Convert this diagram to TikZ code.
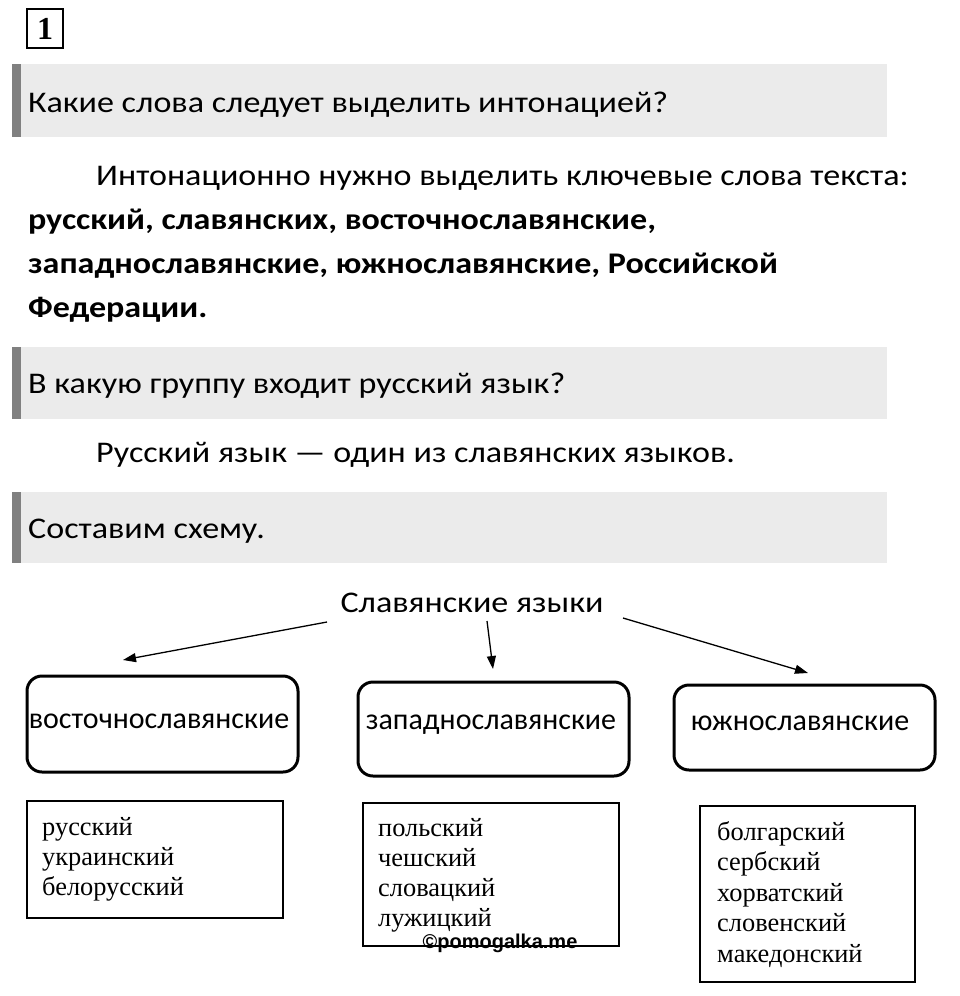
\documentclass[tikz,border=0pt]{standalone}
\usepackage{fontspec}
\setmainfont{Carlito}
\newfontfamily\widefont{Carlito}[FakeStretch=1.135]
\newfontfamily\serifl{Liberation Serif}
\newfontfamily\sansl{Liberation Sans}
\usetikzlibrary{arrows.meta}
\definecolor{barfill}{HTML}{EBEBEB}
\definecolor{stripcol}{HTML}{808080}
\newcommand\mainsz{\fontsize{30}{36}\selectfont}
\newcommand\listsz{\fontsize{26.4}{30}\selectfont}
\begin{document}
\begin{tikzpicture}[x=1pt,y=-1pt,
  txt/.style={inner sep=0pt, font=\widefont\mainsz, anchor=base west},
  btxt/.style={inner sep=0pt, font=\widefont\mainsz\bfseries, anchor=base west},
  rbox/.style={draw, line width=3pt, rounded corners=15pt, inner sep=0pt},
  lbox/.style={draw, line width=1.4pt, inner sep=0pt},
  lst/.style={inner sep=0pt, font=\serifl\listsz, anchor=base west},
  arr/.style={line width=1.3pt, -{Triangle[length=13pt,width=9pt]}},
  lbl/.style={inner sep=0pt, font=\mainsz, anchor=base}]
\useasboundingbox (0,0) rectangle (960,996);
\fill[white] (0,0) rectangle (960,996);
% number box
\node[draw, line width=2pt, minimum width=36pt, minimum height=39pt, inner sep=0pt,
  font=\serifl\bfseries\fontsize{32}{32}\selectfont] (num) at (45,28.5) {1};
% question bars
\fill[barfill] (12,64) rectangle (887,137);
\fill[stripcol] (12,64) rectangle (21,137);
\fill[barfill] (12,347) rectangle (887,419);
\fill[stripcol] (12,347) rectangle (21,419);
\fill[barfill] (12,492) rectangle (887,563);
\fill[stripcol] (12,492) rectangle (21,563);
\node[txt] (q1) at (28,112) {Какие слова следует выделить интонацией?};
\node[txt] (p1) at (96,185) {Интонационно нужно выделить ключевые слова текста:};
\node[btxt] (p2) at (28,229) {русский, славянских, восточнославянские,};
\node[btxt] (p3) at (28,273) {западнославянские, южнославянские, Российской};
\node[btxt] (p4) at (28,317) {Федерации.};
\node[txt] (q2) at (28,393) {В какую группу входит русский язык?};
\node[txt] (a2) at (96,462) {Русский язык — один из славянских языков.};
\node[txt] (q3) at (28,538) {Составим схему.};
% scheme
\node[lbl, font=\widefont\fontsize{30}{36}\selectfont] (root) at (472,612) {Славянские языки};
\node[rbox, minimum width=271pt, minimum height=96pt] (east) at (162.5,724) {};
\node[rbox, minimum width=271pt, minimum height=94pt] (west) at (493.5,729) {};
\node[rbox, minimum width=261pt, minimum height=85pt] (south) at (804.5,727.5) {};
\node[lbl] (eastl) at (159,728) {восточнославянские};
\node[lbl] (westl) at (491,729) {западнославянские};
\node[lbl] (southl) at (800,730) {южнославянские};
\coordinate (a1s) at (327,622);
\coordinate (a1e) at (123,660);
\coordinate (a2s) at (487,621);
\coordinate (a2e) at (493,669);
\coordinate (a3s) at (623,618);
\coordinate (a3e) at (808,673);
\draw[arr] (a1s) -- (a1e);
\draw[arr] (a2s) -- (a2e);
\draw[arr] (a3s) -- (a3e);
% lists
\node[lbox, minimum width=256pt, minimum height=117pt] (eastlist) at (155,859.5) {};
\node[lbox, minimum width=256pt, minimum height=143pt] (westlist) at (491,874.5) {};
\node[lbox, minimum width=215pt, minimum height=176pt] (southlist) at (807.5,894) {};
\foreach \t [count=\i] in {русский, украинский, белорусский}
  \node[lst] (e\i) at (42,{835+30*(\i-1)}) {\t};
\foreach \t [count=\i] in {польский, чешский, словацкий, лужицкий}
  \node[lst] (w\i) at (378,{836+30.3*(\i-1)}) {\t};
\foreach \t [count=\i] in {болгарский, сербский, хорватский, словенский, македонский}
  \node[lst] (s\i) at (717,{840+30.5*(\i-1)}) {\t};
\node[inner sep=0pt, anchor=base, font=\sansl\bfseries\fontsize{20}{20}\selectfont] (wm) at (500,948) {©pomogalka.me};
\end{tikzpicture}
\end{document}
